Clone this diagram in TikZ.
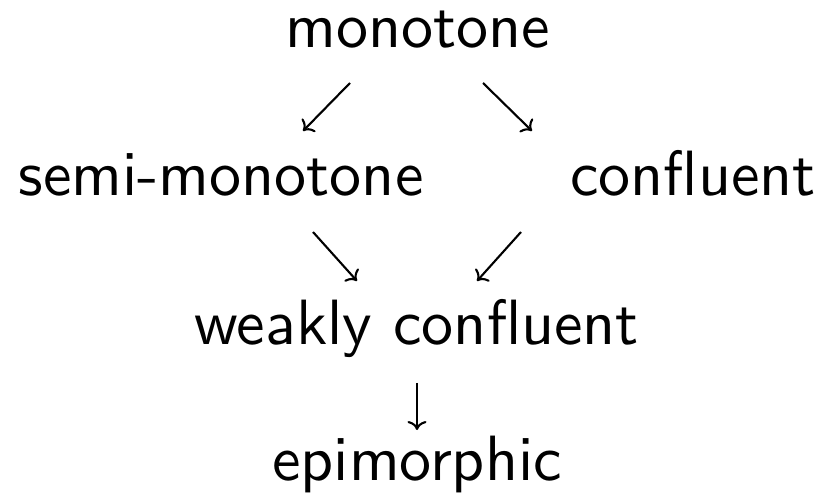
\documentclass[tikz,border=0pt]{standalone}
\usepackage{fontspec}
\usetikzlibrary{arrows.meta}
\newfontfamily\lmssten{lmsans10-regular.otf}
\tikzset{
  classnode/.style={anchor=base, inner sep=0pt, font=\lmssten\fontsize{64}{70}\selectfont},
  implarrow/.style={line width=2.1pt, -{To[length=9pt,width=19pt]}}
}
\begin{document}
\begin{tikzpicture}[x=1pt, y=-1pt]
  \useasboundingbox (0,0) rectangle (822,502);
  \node[classnode] (mono) at (418,48) {monotone};
  \node[classnode] (semi) at (221,196) {semi-monotone};
  \node[classnode] (conf) at (693,196) {confluent};
  \node[classnode] (weak) at (417,345) {weakly confluent};
  \node[classnode] (epi) at (417,480) {epimorphic};
  \draw[implarrow] ([shift={(-68,35)}]mono.base) -- ([shift={(82,-65)}]semi.base);
  \draw[implarrow] ([shift={(65,35)}]mono.base) -- ([shift={(-161,-65)}]conf.base);
  \draw[implarrow] ([shift={(92,36)}]semi.base) -- ([shift={(-60,-64)}]weak.base);
  \draw[implarrow] ([shift={(-172,36)}]conf.base) -- ([shift={(60,-64)}]weak.base);
  \draw[implarrow] ([shift={(0,38)}]weak.base) -- ([shift={(0,-50)}]epi.base);
\end{tikzpicture}
\end{document}
